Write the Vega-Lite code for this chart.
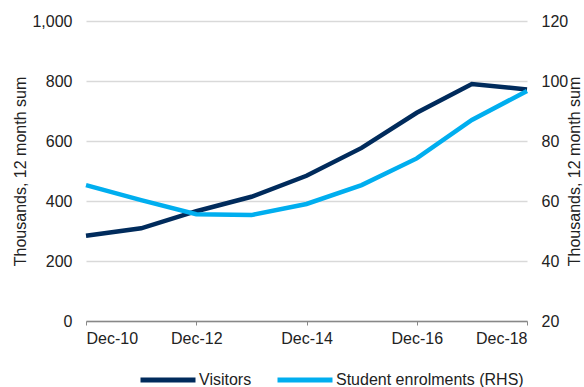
{
  "$schema": "https://vega.github.io/schema/vega-lite/v6.json",
  "width": 441,
  "height": 300,
  "autosize": "none",
  "padding": {"left": 86, "top": 21, "right": 57, "bottom": 66},
  "background": "white",
  "config": {
    "font": "Liberation Sans",
    "view": {"stroke": null}
  },
  "data": {"values": [
    {"year": 2010, "visitors": 284, "students": 65.3},
    {"year": 2011, "visitors": 309, "students": 60.3},
    {"year": 2012, "visitors": 366, "students": 55.6},
    {"year": 2013, "visitors": 414, "students": 55.3},
    {"year": 2014, "visitors": 484, "students": 59},
    {"year": 2015, "visitors": 577, "students": 65.3},
    {"year": 2016, "visitors": 694, "students": 74.2},
    {"year": 2017, "visitors": 790, "students": 87},
    {"year": 2018, "visitors": 772, "students": 96.7}
  ]},
  "encoding": {
    "x": {"field": "year", "type": "quantitative",
      "scale": {"domain": [2010, 2018], "nice": false, "zero": false},
      "axis": {"values": [2010, 2012, 2014, 2016, 2018], "labelExpr": "'Dec-' + substring(toString(datum.value), 2)", "title": null, "grid": false, "domainColor": "#888", "domainWidth": 1.5, "tickColor": "#888", "tickSize": 4, "labelPadding": 5, "labelFontSize": 16, "labelColor": "#222", "labelFont": "Liberation Sans"}}
  },
  "layer": [
    {
      "mark": {"type": "line", "strokeWidth": 4.5},
      "encoding": {
        "y": {"field": "visitors", "type": "quantitative", "scale": {"domain": [0, 1000], "nice": false},
          "axis": {"values": [0, 200, 400, 600, 800, 1000], "format": ",.0f", "title": "Thousands, 12 month sum", "grid": true, "gridColor": "#D9D9D9", "gridWidth": 1.5, "domain": false, "ticks": false, "labelPadding": 14, "titlePadding": 3, "labelFontSize": 16, "titleFontSize": 16, "titleFontWeight": "normal", "labelColor": "#222", "titleColor": "#222", "labelFont": "Liberation Sans", "titleFont": "Liberation Sans"}},
        "color": {"datum": "Visitors", "scale": {"domain": ["Visitors", "Student enrolments (RHS)"], "range": ["#002B5C", "#00AEEF"]},
          "legend": {"title": null, "orient": "none", "legendX": 52, "legendY": 329, "direction": "horizontal", "symbolType": "stroke", "symbolSize": 3025, "symbolStrokeWidth": 5, "labelFontSize": 16, "labelFont": "Liberation Sans", "labelColor": "#222", "labelLimit": 400, "columnPadding": 15, "labelOffset": 1}}
      }
    },
    {
      "mark": {"type": "line", "strokeWidth": 4.5},
      "encoding": {
        "y": {"field": "students", "type": "quantitative", "scale": {"domain": [20, 120], "nice": false, "zero": false},
          "axis": {"orient": "right", "values": [20, 40, 60, 80, 100, 120], "title": "Thousands, 12 month sum", "titleAngle": 270, "grid": false, "domain": false, "ticks": false, "labelPadding": 14, "titlePadding": 15, "labelFontSize": 16, "titleFontSize": 16, "titleFontWeight": "normal", "labelColor": "#222", "titleColor": "#222", "labelFont": "Liberation Sans", "titleFont": "Liberation Sans"}},
        "color": {"datum": "Student enrolments (RHS)"}
      }
    }
  ],
  "resolve": {"scale": {"y": "independent"}}
}
